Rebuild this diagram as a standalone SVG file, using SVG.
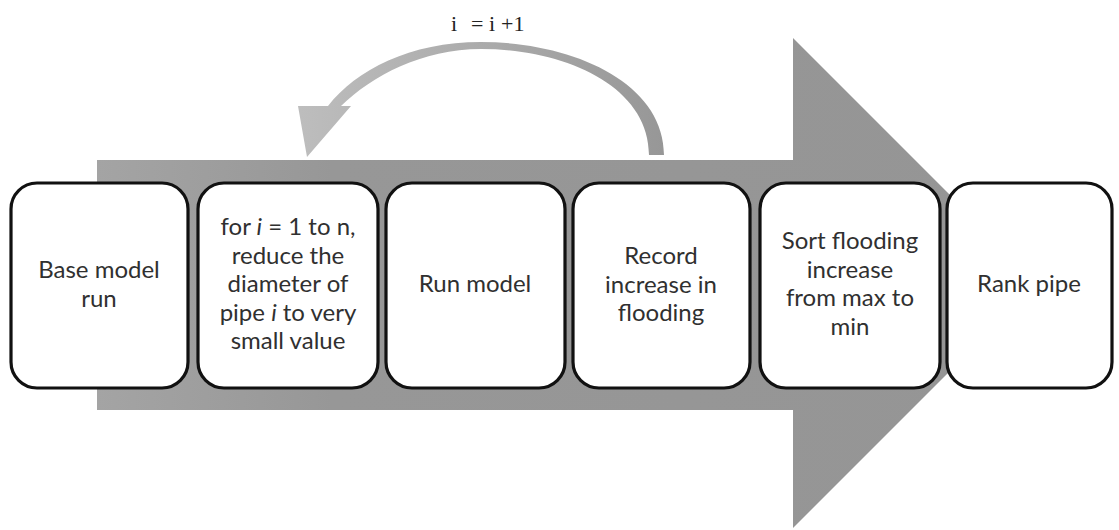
<svg xmlns="http://www.w3.org/2000/svg" width="1119" height="530" viewBox="0 0 1119 530">
  <defs>
    <linearGradient id="bodyFill" x1="97" y1="0" x2="1040" y2="0" gradientUnits="userSpaceOnUse">
      <stop offset="0" stop-color="#a4a4a4"/>
      <stop offset="0.25" stop-color="#979797"/>
      <stop offset="1" stop-color="#959595"/>
    </linearGradient>
    <linearGradient id="loopFill" x1="300" y1="0" x2="664" y2="0" gradientUnits="userSpaceOnUse">
      <stop offset="0" stop-color="#bdbdbd"/>
      <stop offset="0.5" stop-color="#ababab"/>
      <stop offset="1" stop-color="#979797"/>
    </linearGradient>
  </defs>
  <style>
    .box { fill: #ffffff; stroke: #111111; stroke-width: 3.2; }
    .label { font-family: Lato, "Open Sans", "Liberation Sans", sans-serif; font-size: 24px; fill: #303030; text-anchor: middle; }
    .counter { font-family: "Liberation Serif", serif; font-size: 22px; fill: #222222; }
  </style>

  <rect width="1119" height="530" fill="#ffffff"/>

  <!-- large process arrow behind the steps -->
  <g id="process-arrow">
    <polygon points="97,160 793,160 793,38 1038,283 793,528 793,410 97,410" fill="url(#bodyFill)"/>
  </g>

  <!-- loop back arrow and its counter label -->
  <g id="connectors">
    <path d="M 649,155 L 664,155 C 664,82 572,42 481,42 C 410,42 356,70 328,106 L 298,106 L 307,157 L 351,106 L 341,106 C 372,76 422,49 481,49 C 565,49 649,86 649,155 Z" fill="url(#loopFill)"/>
    <text class="counter" y="31"><tspan x="451">i</tspan><tspan x="471">=</tspan><tspan x="489">i</tspan><tspan x="501">+1</tspan></text>
  </g>

  <g id="step-base-run">
    <rect class="box" x="11" y="183" width="177" height="205" rx="26"/>
    <text class="label"><tspan x="99" y="278">Base model</tspan><tspan x="99" y="307">run</tspan></text>
  </g>

  <g id="step-reduce-diameter">
    <rect class="box" x="198" y="183" width="180" height="205" rx="26"/>
    <text class="label"><tspan x="288" y="235">for <tspan font-style="italic">i</tspan> = 1 to n,</tspan><tspan x="288" y="264">reduce the</tspan><tspan x="288" y="292">diameter of</tspan><tspan x="288" y="321">pipe <tspan font-style="italic">i</tspan> to very</tspan><tspan x="288" y="349">small value</tspan></text>
  </g>

  <g id="step-run-model">
    <rect class="box" x="386" y="183" width="179" height="205" rx="26"/>
    <text class="label"><tspan x="475" y="292">Run model</tspan></text>
  </g>

  <g id="step-record-increase">
    <rect class="box" x="573" y="183" width="177" height="205" rx="26"/>
    <text class="label"><tspan x="661" y="264">Record</tspan><tspan x="661" y="293">increase in</tspan><tspan x="661" y="321">flooding</tspan></text>
  </g>

  <g id="step-sort-flooding">
    <rect class="box" x="760" y="183" width="180" height="205" rx="26"/>
    <text class="label"><tspan x="850" y="249">Sort flooding</tspan><tspan x="850" y="278">increase</tspan><tspan x="850" y="306">from max to</tspan><tspan x="850" y="335">min</tspan></text>
  </g>

  <g id="step-rank-pipe">
    <rect class="box" x="947" y="183" width="165" height="205" rx="26"/>
    <text class="label"><tspan x="1029" y="292">Rank pipe</tspan></text>
  </g>
</svg>
